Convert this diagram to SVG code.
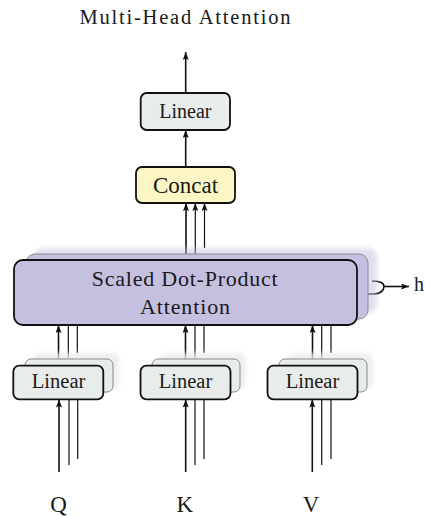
<svg xmlns="http://www.w3.org/2000/svg" width="425" height="517" viewBox="0 0 425 517">
  <defs>
    <style>
      text { font-family: "Liberation Serif", "Times New Roman", serif; fill: #1a1a1a; text-anchor: middle; }
      .main { stroke: #111; stroke-width: 1.8; }
      .back { stroke: #8a8a8a; stroke-width: 1; }
      .lin { fill: #e8ecea; }
      .att { fill: #c5bfe0; }
      .cat { fill: #fcf5c4; }
      .wire { fill: none; stroke: #111; stroke-width: 1.6; }
      .wire2 { fill: none; stroke: #111; stroke-width: 1.2; }
    </style>
    <marker id="tip" viewBox="0 0 8 6" refX="8" refY="3" markerWidth="8" markerHeight="6" markerUnits="userSpaceOnUse" orient="auto">
      <path d="M0,0 L8,3 L0,6 L1.5,3 z" fill="#111"/>
    </marker>
    <filter id="soft" x="-20%" y="-40%" width="140%" height="180%">
      <feGaussianBlur stdDeviation="2.2"/>
    </filter>
  </defs>

  <rect width="425" height="517" fill="#fff"/>

  <!-- wires (drawn first so the stacked boxes cover their ends) -->
  <g id="connectors">
    <!-- output of the top linear layer -->
    <line class="wire" x1="185.7" y1="93" x2="185.7" y2="52" marker-end="url(#tip)"/>
    <!-- concat to linear -->
    <line class="wire" x1="185.7" y1="167" x2="185.7" y2="130" marker-end="url(#tip)"/>
    <!-- attention heads to concat -->
    <line class="wire" x1="186" y1="262" x2="186" y2="203" marker-end="url(#tip)"/>
    <line class="wire2" x1="195.3" y1="256" x2="195.3" y2="203" marker-end="url(#tip)"/>
    <line class="wire2" x1="204.5" y1="248" x2="204.5" y2="203" marker-end="url(#tip)"/>

    <!-- projections to attention -->
    <line class="wire" x1="58.5" y1="366" x2="58.5" y2="325" marker-end="url(#tip)"/>
    <line class="wire2" x1="68.3" y1="360" x2="68.3" y2="322"/>
    <line class="wire2" x1="77.3" y1="353" x2="77.3" y2="322"/>
    <line class="wire" x1="185.5" y1="366" x2="185.5" y2="325" marker-end="url(#tip)"/>
    <line class="wire2" x1="195" y1="360" x2="195" y2="322"/>
    <line class="wire2" x1="204" y1="353" x2="204" y2="322"/>
    <line class="wire" x1="312.5" y1="366" x2="312.5" y2="325" marker-end="url(#tip)"/>
    <line class="wire2" x1="321.7" y1="360" x2="321.7" y2="322"/>
    <line class="wire2" x1="331" y1="353" x2="331" y2="322"/>

    <!-- Q, K, V inputs -->
    <line class="wire" x1="59" y1="472" x2="59" y2="399.5" marker-end="url(#tip)"/>
    <line class="wire2" x1="69" y1="465" x2="69" y2="390"/>
    <line class="wire2" x1="77.7" y1="459" x2="77.7" y2="390"/>
    <line class="wire" x1="185.7" y1="472" x2="185.7" y2="399.5" marker-end="url(#tip)"/>
    <line class="wire2" x1="195" y1="465" x2="195" y2="390"/>
    <line class="wire2" x1="204" y1="459" x2="204" y2="390"/>
    <line class="wire" x1="312.3" y1="472" x2="312.3" y2="399.5" marker-end="url(#tip)"/>
    <line class="wire2" x1="321.7" y1="465" x2="321.7" y2="390"/>
    <line class="wire2" x1="331" y1="459" x2="331" y2="390"/>

    <!-- heads count -->
    <path class="wire" d="M357,294 L374,294 C380,294 384,290.5 384,286.5 C384,283 380,281 372,281"/>
    <line class="wire" x1="384" y1="286.5" x2="409" y2="286.5" marker-end="url(#tip)"/>
  </g>

  <text id="title" x="185" y="24" font-size="20.5" textLength="211" lengthAdjust="spacing">Multi-Head Attention</text>

  <g id="linear-out">
    <rect class="lin main" x="140.7" y="93" width="89.3" height="37" rx="6"/>
    <text x="185.4" y="118.3" font-size="20">Linear</text>
  </g>

  <g id="concat">
    <rect class="cat main" x="136" y="167" width="99" height="36" rx="6"/>
    <text x="185.5" y="192.7" font-size="23">Concat</text>
  </g>

  <g id="attention">
    <rect class="att" x="34" y="248" width="343" height="65" rx="9" opacity="0.5" filter="url(#soft)"/>
    <rect class="att back" x="26" y="254" width="342" height="65" rx="9"/>
    <rect class="att main" x="14" y="260" width="343" height="65" rx="9"/>
    <text x="184.7" y="286" font-size="22" textLength="186" lengthAdjust="spacing">Scaled Dot-Product</text>
    <text x="185" y="314" font-size="22" textLength="90" lengthAdjust="spacing">Attention</text>
  </g>

  <g id="linear-q">
    <rect class="lin" x="33" y="353" width="86" height="36" rx="6" opacity="0.8" filter="url(#soft)"/>
    <rect class="lin back" x="25" y="359" width="88" height="33" rx="6"/>
    <rect class="lin main" x="13.3" y="365.7" width="90" height="33.6" rx="6"/>
    <text x="58.6" y="387.7" font-size="20.5">Linear</text>
  </g>

  <g id="linear-k">
    <rect class="lin" x="160" y="353" width="86" height="36" rx="6" opacity="0.8" filter="url(#soft)"/>
    <rect class="lin back" x="152" y="359" width="88" height="33" rx="6"/>
    <rect class="lin main" x="140.5" y="365.7" width="90" height="33.6" rx="6"/>
    <text x="185.5" y="387.7" font-size="20.5">Linear</text>
  </g>

  <g id="linear-v">
    <rect class="lin" x="287" y="353" width="86" height="36" rx="6" opacity="0.8" filter="url(#soft)"/>
    <rect class="lin back" x="279" y="359" width="88" height="33" rx="6"/>
    <rect class="lin main" x="267.5" y="365.7" width="90" height="33.6" rx="6"/>
    <text x="312.5" y="387.7" font-size="20.5">Linear</text>
  </g>

  <g id="inputs">
    <text x="58.5" y="512" font-size="23">Q</text>
    <text x="184.7" y="512" font-size="23">K</text>
    <text x="311" y="512" font-size="23">V</text>
  </g>

  <text id="heads" x="419" y="291" font-size="20">h</text>
</svg>
